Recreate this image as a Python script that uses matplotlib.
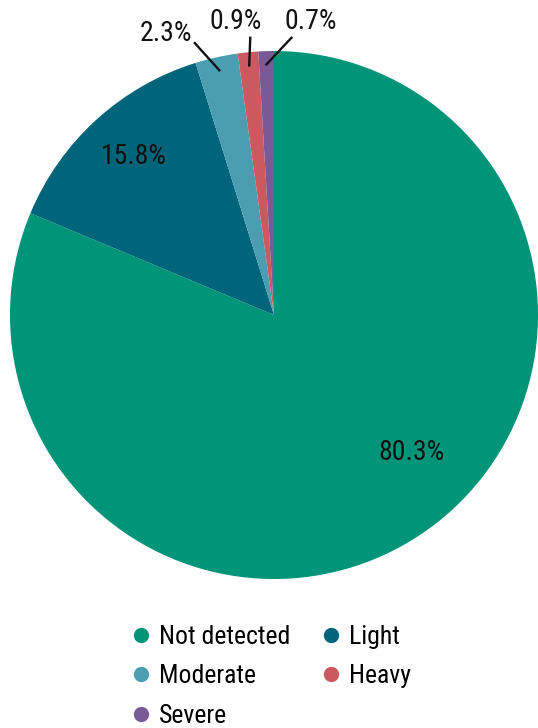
import matplotlib
matplotlib.use('Agg')
import numpy as np
import matplotlib.pyplot as plt
from matplotlib import font_manager
from matplotlib.lines import Line2D

# pick a condensed font if one is installed
names = {f.name for f in font_manager.fontManager.ttflist}
family = 'DejaVu Sans'
for cand in ['Roboto Condensed', 'Liberation Sans Narrow', 'Arial Narrow', 'Roboto', 'Liberation Sans']:
    if cand in names:
        family = cand
        break
plt.rcParams['font.family'] = [family, 'DejaVu Sans']

# Data
categories = ['Not detected', 'Light', 'Moderate', 'Heavy', 'Severe']
shares = [80.3, 15.8, 2.3, 0.9, 0.7]            # printed labels
wedge_sizes = [81.3, 13.9, 2.6, 1.25, 0.95]     # slice sizes as drawn in the picture
colors = ['#009479', '#00657A', '#4B9DB2', '#CC5960', '#7A5A96']

# label placement (data units, pie radius = 1)
inside_pos = {0: (0.52, -0.52), 1: (-0.53, 0.60)}
outside_pos = {2: (-0.41, 1.065), 3: (-0.145, 1.11), 4: (0.14, 1.11)}
leader_end = {2: (-0.30, 1.03), 3: (-0.09, 1.05), 4: (0.066, 1.05)}

fig = plt.figure(figsize=(5.38, 7.28), dpi=100)
ax = fig.add_axes([10 / 538, (728 - 579) / 728, 528 / 538, 528 / 728])

wedges, _ = ax.pie(wedge_sizes, colors=colors, startangle=90, counterclock=False,
                   radius=1, wedgeprops=dict(linewidth=0))
ax.set_xlim(-1, 1)
ax.set_ylim(-1, 1)
ax.set_aspect('equal')
ax.axis('off')

for i, w in enumerate(wedges):
    txt = f'{shares[i]:.1f}%'
    if i in inside_pos:
        x, y = inside_pos[i]
        ax.text(x, y, txt, ha='center', va='center', fontsize=20, color='#111111')
    else:
        ang = np.deg2rad((w.theta1 + w.theta2) / 2)
        r = 0.95
        x0, y0 = r * np.cos(ang), r * np.sin(ang)
        x1, y1 = leader_end[i]
        ax.plot([x0, x1], [y0, y1], color='#111111', lw=1.7, clip_on=False)
        x, y = outside_pos[i]
        ax.text(x, y, txt, ha='center', va='center', fontsize=20, color='#111111')

# legend: row-wise order in two columns
order = [0, 2, 4, 1, 3]
handles = [Line2D([], [], marker='o', linestyle='none', markersize=11,
                  markerfacecolor=colors[i], markeredgewidth=0) for i in order]
labels = [categories[i] for i in order]
fig.legend(handles, labels, ncol=2, loc='upper left',
           bbox_to_anchor=(120 / 538, 1 - 612 / 728), frameon=False,
           fontsize=18.5, handlelength=0.6, handletextpad=0.4,
           columnspacing=1.3, labelspacing=0.6, borderpad=0)

plt.savefig('out.png', dpi=100)
plt.close()
